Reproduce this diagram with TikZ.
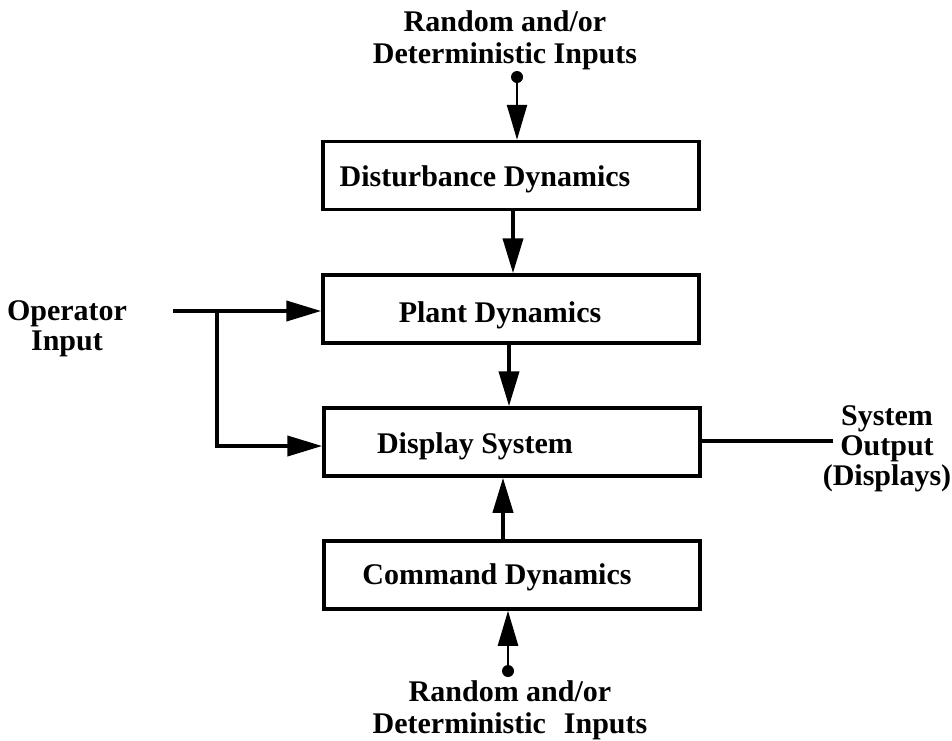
\documentclass[tikz,border=0pt]{standalone}
\usepackage{fontspec}
\setmainfont{Liberation Serif}
\usetikzlibrary{arrows.meta}
\begin{document}
\begin{tikzpicture}[x=1pt,y=-1pt,
  box/.style={draw, line width=3.5pt, minimum width=376pt, minimum height=68pt, inner sep=0pt},
  txt/.style={font=\fontsize{30}{32}\selectfont\bfseries, inner sep=0pt, align=center},
  tighttxt/.style={font=\fontsize{30}{30}\selectfont\bfseries, inner sep=0pt, align=center},
  conn/.style={line width=4pt},
  arr/.style={conn, -{Triangle[length=35pt,width=20pt]}},
  feed/.style={line width=2.5pt, -{Triangle[length=35pt,width=20pt]}},
  srcdot/.style={circle, fill, inner sep=0pt, minimum size=12pt},
]
\useasboundingbox (0,0) rectangle (952,740);

% boxes
\node[box, label={[txt, xshift=-26pt, yshift=-4pt]center:Disturbance Dynamics}] (dist) at (511,175.5) {};
\node[box, label={[txt, xshift=-11pt, yshift=-6pt]center:Plant Dynamics}] (plant) at (511,309) {};
\node[box, label={[txt, xshift=-37pt, yshift=-4pt]center:Display System}] (disp) at (512,442) {};
\node[box, label={[txt, xshift=-15pt, yshift=-2pt]center:Command Dynamics}] (cmd) at (512,575) {};

% labels
\node[txt, anchor=north] (topin) at (505,10) {Random and/or\\Deterministic Inputs};
\node[txt, anchor=north] (botin) at (510,680) {Random and/or\\Deterministic\hspace{0.35em} Inputs};
\node[tighttxt, anchor=north] (op) at (67,300) {Operator\\Input};
\node[tighttxt, anchor=north] (out) at (887,405) {System\\Output\\(Displays)};

% random inputs
\node[srcdot] (dot1) at (517,77) {};
\draw[feed] (dot1.center) -- (dot1 |- dist.north);
\node[srcdot] (dot2) at (508,671) {};
\draw[feed] (dot2.center) -- (dot2 |- cmd.south);

% flow between boxes
\coordinate (dp) at ([xshift=2pt]dist.south);
\draw[arr] (dp) -- (dp |- plant.north);
\coordinate (pd) at ([xshift=-2pt]plant.south);
\draw[arr] (pd) -- (pd |- disp.north);
\coordinate (cd) at ([xshift=-9pt]cmd.north);
\draw[arr] (cd) -- (cd |- disp.south);

% operator input
\coordinate (opstart) at (173,311);
\coordinate (branch) at (217,311);
\draw[arr] (opstart) -- (opstart -| plant.west);
\draw[arr] (branch) |- ([yshift=-4pt]disp.west);

% system output
\coordinate (outend) at (833,441);
\draw[conn] (disp.east |- outend) -- (outend);
\end{tikzpicture}
\end{document}
